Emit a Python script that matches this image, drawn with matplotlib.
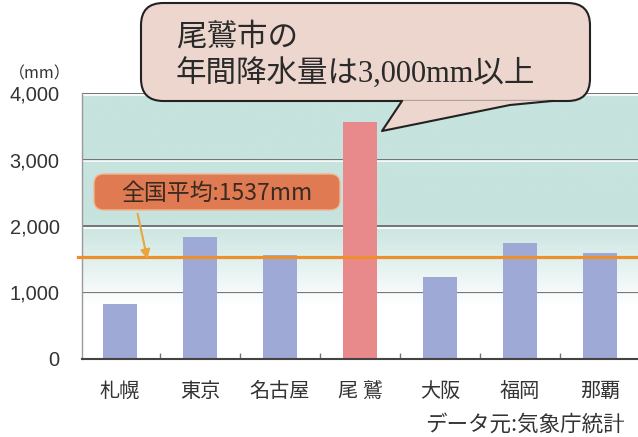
import numpy as np
import matplotlib
matplotlib.use("Agg")
import matplotlib.pyplot as plt
from matplotlib.patches import FancyBboxPatch, Polygon
from matplotlib.colors import to_rgb

plt.rcParams['font.family'] = ['Noto Sans CJK JP', 'DejaVu Sans']

# 年間降水量 (mm)
cities = ['札幌', '東京', '名古屋', '尾 鷲', '大阪', '福岡', '那覇']
rainfall = [830, 1840, 1560, 3570, 1230, 1740, 1590]
national_avg = 1537
yticks = [0, 1000, 2000, 3000, 4000]
ytick_labels = ['0', '1,000', '2,000', '3,000', '4,000']

W, H = 638, 437
fig = plt.figure(figsize=(W / 100, H / 100), dpi=100)
fig.patch.set_facecolor('white')


def px(x, y):
    # ピクセル座標 -> figure座標
    return (x / W, 1 - y / H)


ax = fig.add_axes([82 / W, (H - 359) / H, (W - 82) / W, 266 / H])
ax.set_xlim(-0.475, 6.475)
ax.set_ylim(0, 4000)

# 背景のグラデーション(上が水色、下が白)
yy = np.linspace(0, 4000, 400)
t = np.clip((yy - 800) / (2100 - 800), 0, 1)[:, None]
teal = np.array(to_rgb('#c6e3de'))
grad = (1 - t) * np.ones(3) + t * teal
ax.imshow(grad[:, None, :], extent=[-0.475, 6.475, 0, 4000], origin='lower',
          aspect='auto', zorder=0)

# 目盛り線
for v in yticks[1:]:
    ax.axhline(v, color='#626262', lw=1.2, zorder=1)
    ax.axhline(v - 25, color='white', lw=1.2, zorder=1)

colors = ['#9ea9d6'] * len(cities)
colors[3] = '#e8898b'
x = np.arange(len(cities))
ax.bar(x, rainfall, width=0.42, color=colors, zorder=2)

ax.axhline(national_avg, xmin=-0.008, color='#ee8f2e', lw=2.3, zorder=3,
           clip_on=False)

for s in ['top', 'right']:
    ax.spines[s].set_visible(False)
ax.spines['left'].set_color('#999999')
ax.spines['left'].set_linewidth(1)
ax.spines['bottom'].set_color('#444444')
ax.spines['bottom'].set_linewidth(1.5)

ax.set_yticks(yticks)
ax.set_yticklabels(ytick_labels, family='Liberation Sans', fontsize=14.4,
                   color='#333333')
ax.tick_params(axis='y', length=0, pad=16)
ax.set_xticks(x)
ax.set_xticklabels(cities, fontsize=14.5, color='#333333')
ax.tick_params(axis='x', length=0, pad=16)
ax.set_xticks(x[:-1] + 0.5, minor=True)
ax.tick_params(axis='x', which='minor', direction='in', length=4,
               color='#777777', width=1)

fig.text(*px(40, 74), '（mm）', fontsize=11.5, color='#333333',
         ha='center', va='center')

# 吹き出し
bubble_fc = '#ecd6cd'
(bx0, by0), (bx1, by1) = px(141, 101), px(590, 3)
box = FancyBboxPatch((bx0, by0), bx1 - bx0, by1 - by0,
                     boxstyle='round,pad=0,rounding_size=0.035',
                     transform=fig.transFigure, fc=bubble_fc, ec='#222222',
                     lw=1.5, zorder=5, mutation_aspect=W / H)
fig.patches.append(box)
tail = [px(402, 100.3), px(382, 131), px(510, 105), px(552, 100.3)]
fig.patches.append(Polygon(tail, closed=True, transform=fig.transFigure,
                           fc=bubble_fc, ec='none', zorder=6))
tx, ty = zip(*[px(402, 101), px(382, 131), px(510, 105), px(552, 101)])
fig.lines.append(plt.Line2D(tx, ty, transform=fig.transFigure,
                            color='#222222', lw=1.5, zorder=7))

fig.text(*px(176, 37), '尾鷲市の', fontsize=22, color='#2a2a2a',
         ha='left', va='center', zorder=8)
fig.text(*px(176, 74), '年間降水量は3,000mm以上', fontsize=22,
         family=['Liberation Serif', 'Noto Sans CJK JP'], color='#2a2a2a',
         ha='left', va='center', zorder=8)

# 全国平均ラベル
(lx0, ly0), (lx1, ly1) = px(94, 210), px(340, 174)
label = FancyBboxPatch((lx0, ly0), lx1 - lx0, ly1 - ly0,
                       boxstyle='round,pad=0,rounding_size=0.015',
                       transform=fig.transFigure, fc='#e07a52', ec='#f3b590',
                       lw=1, zorder=5, mutation_aspect=W / H)
fig.patches.append(label)
fig.text(*px(217, 193), '全国平均:1537mm', fontsize=16.5, color='#3a2a20',
         ha='center', va='center', zorder=8)
fig.add_artist(plt.Annotation('', xy=px(148, 262), xytext=px(137, 211),
                              xycoords='figure fraction',
                              textcoords='figure fraction',
                              arrowprops=dict(arrowstyle='-|>', color='#e9a640',
                                              lw=1.5, mutation_scale=14)))

fig.text(*px(625, 425), 'データ元:気象庁統計', fontsize=15.5, color='#333333',
         ha='right', va='center')

fig.savefig('out.png', dpi=100)
